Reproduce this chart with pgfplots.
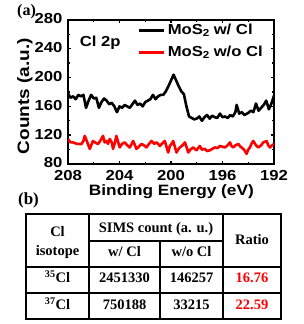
\documentclass[border=0pt]{standalone}
\usepackage{pgfplots}
\pgfplotsset{compat=1.18}
\usepackage{fontspec}
\setmainfont{Liberation Sans}[FakeStretch=1.15]
\newfontfamily\serifb{Liberation Serif}
\definecolor{myred}{RGB}{255,0,0}
\begin{document}
\begin{tikzpicture}[x=1pt,y=1pt]
\useasboundingbox (0,0) rectangle (303,324);
\begin{axis}[
  at={(68pt,160pt)}, anchor=south west,
  width=206pt, height=144pt, scale only axis,
  xmin=192, xmax=208, x dir=reverse,
  ymin=80, ymax=280,
  xtick={192,196,200,204,208}, ytick={80,120,160,200,240,280},
  minor x tick num=1, minor y tick num=1,
  tick align=inside, major tick length=3pt, minor tick length=2pt,
  axis line style={line width=1.8pt},
  every tick/.style={line width=1.4pt,black},
  /pgf/number format/assume math mode=true,
  ticklabel style={font=\bfseries\fontsize{14.5}{16}\selectfont, inner sep=0.8pt},
  xticklabel style={yshift=-5.5pt},
  yticklabel style={xshift=-4.5pt, yshift=1pt},
  xlabel={Binding Energy (eV)},
  ylabel={Counts (a.u.)},
  xlabel style={font=\bfseries\fontsize{15}{17}\selectfont, at={(axis description cs:0.502,-0.194)}, anchor=center},
  ylabel style={font=\bfseries\fontsize{16.5}{18}\selectfont, at={(axis description cs:-0.209,0.47)}, anchor=center, rotate=0},
  legend style={draw=none, fill=none, at={(0.33,1.0)}, anchor=north west,
    font=\bfseries\fontsize{14.5}{16}\selectfont, row sep=6pt, inner sep=2pt},
  legend cell align=left,
  legend image code/.code={\draw[#1, line width=2.6pt] (0pt,0pt) -- (25pt,0pt);},
]
\addplot[black, line width=2.6pt, line join=round] coordinates {
(208.0,178) (207.8,172) (207.6,174) (207.4,170) (207.2,176) (207.0,174)
(206.8,176) (206.6,158) (206.4,168) (206.2,176) (206.0,171) (205.8,172)
(205.6,158) (205.4,166) (205.2,171) (205.0,168) (204.8,163) (204.6,165)
(204.4,160) (204.2,152) (204.0,160) (203.8,158) (203.6,162) (203.4,160)
(203.2,158) (203.0,163) (202.8,168) (202.6,162) (202.4,164) (202.2,160)
(202.0,166) (201.8,168) (201.6,170) (201.4,176) (201.2,170) (201.0,174)
(200.8,176) (200.6,176) (200.4,181) (200.2,188) (200.0,196) (199.8,204)
(199.6,196) (199.4,188) (199.2,181) (199.0,177) (198.8,160) (198.6,146)
(198.4,144) (198.2,142) (198.0,143) (197.8,146) (197.6,140) (197.4,145)
(197.2,148) (197.0,143) (196.8,147) (196.6,145) (196.4,144) (196.2,150)
(196.0,145) (195.8,146) (195.6,144) (195.4,148) (195.2,146) (195.0,152)
(194.9,162) (194.7,150) (194.5,152) (194.3,148) (194.0,151) (193.8,154)
(193.6,152) (193.4,164) (193.2,154) (193.0,158) (192.8,162) (192.6,168)
(192.4,156) (192.2,164) (192.0,175)
};
\addlegendentry{MoS$_{\mathbf 2}$ w/ Cl}
\addplot[myred, line width=2.6pt, line join=round] coordinates {
(208.0,114.6) (207.8,110) (207.61,110) (207.3,108) (206.96,107.7) (206.8,112)
(206.70,119) (206.5,110) (206.31,101) (206.2,106) (206.06,112) (205.9,110)
(205.67,107.7) (205.5,112) (205.28,119) (205.15,110) (205.02,112) (204.9,108)
(204.76,114.6) (204.6,110) (204.50,101) (204.35,110) (204.24,119) (204.1,110)
(203.98,103) (203.8,108) (203.59,110) (203.4,106) (203.20,103) (203.05,108)
(202.94,112) (202.8,106) (202.68,101) (202.5,104) (202.29,107.7) (202.1,106)
(201.91,103) (201.7,108) (201.52,112) (201.3,108) (201.13,110) (201.0,108)
(200.87,105) (200.7,108) (200.48,112) (200.35,104) (200.22,96) (200.09,105)
(199.95,108) (199.83,112) (199.7,104) (199.57,96) (199.45,100) (199.31,103)
(199.1,106) (198.92,110) (198.8,104) (198.66,96) (198.5,100) (198.27,103)
(198.1,100) (198.02,99) (197.9,102) (197.76,105) (197.6,100) (197.37,101)
(197.2,98) (196.98,99) (196.8,101) (196.59,103) (196.4,102) (196.20,105)
(196.0,104) (195.81,103) (195.6,106) (195.42,110) (195.3,105) (195.16,103)
(195.0,106) (194.77,107.7) (194.6,104) (194.39,101) (194.25,98) (194.13,94)
(194.0,100) (193.87,103) (193.75,108) (193.61,112) (193.4,106) (193.22,103)
(193.0,106) (192.83,110) (192.7,111) (192.57,112) (192.45,106) (192.31,103)
(192.15,106) (192.0,107.7)
};
\addlegendentry{MoS$_{\mathbf 2}$ w/o Cl}
\node[anchor=west, font=\bfseries\fontsize{14.5}{16}\selectfont] at (axis description cs:0.04,0.84) {Cl 2p};
\end{axis}
% panel labels
\node[font=\serifb\bfseries\fontsize{16}{18}\selectfont] at (26.5,312) {(a)};
\node[font=\serifb\bfseries\fontsize{17}{19}\selectfont] at (28.5,124) {(b)};
% table
\begin{scope}[line width=1.2pt]
\draw (26,5) rectangle (281,110);
\draw (89,5) -- (89,110);
\draw (223,5) -- (223,110);
\draw (160,5) -- (160,83);
\draw (89,83) -- (223,83);
\draw (26,57) -- (281,57);
\draw (26,31) -- (281,31);
\end{scope}
\begin{scope}[every node/.style={font=\serifb\bfseries\fontsize{14.5}{16}\selectfont, text height=9.5pt, text depth=3pt, inner sep=0pt}]
\node at (57.5,91) {Cl};
\node at (57.5,72) {isotope};
\node at (156,95) {SIMS count (a. u.)};
\node at (124.5,71) {w/ Cl};
\node at (191.5,71) {w/o Cl};
\node at (252,82.3) {Ratio};
\node at (57.5,45) {\textsuperscript{35}Cl};
\node at (124.5,45) {2451330};
\node at (191.5,45) {146257};
\node[text=myred] at (252,45) {16.76};
\node at (57.5,18) {\textsuperscript{37}Cl};
\node at (124.5,18) {750188};
\node at (191.5,18) {33215};
\node[text=myred] at (252,18) {22.59};
\end{scope}
\end{tikzpicture}
\end{document}
